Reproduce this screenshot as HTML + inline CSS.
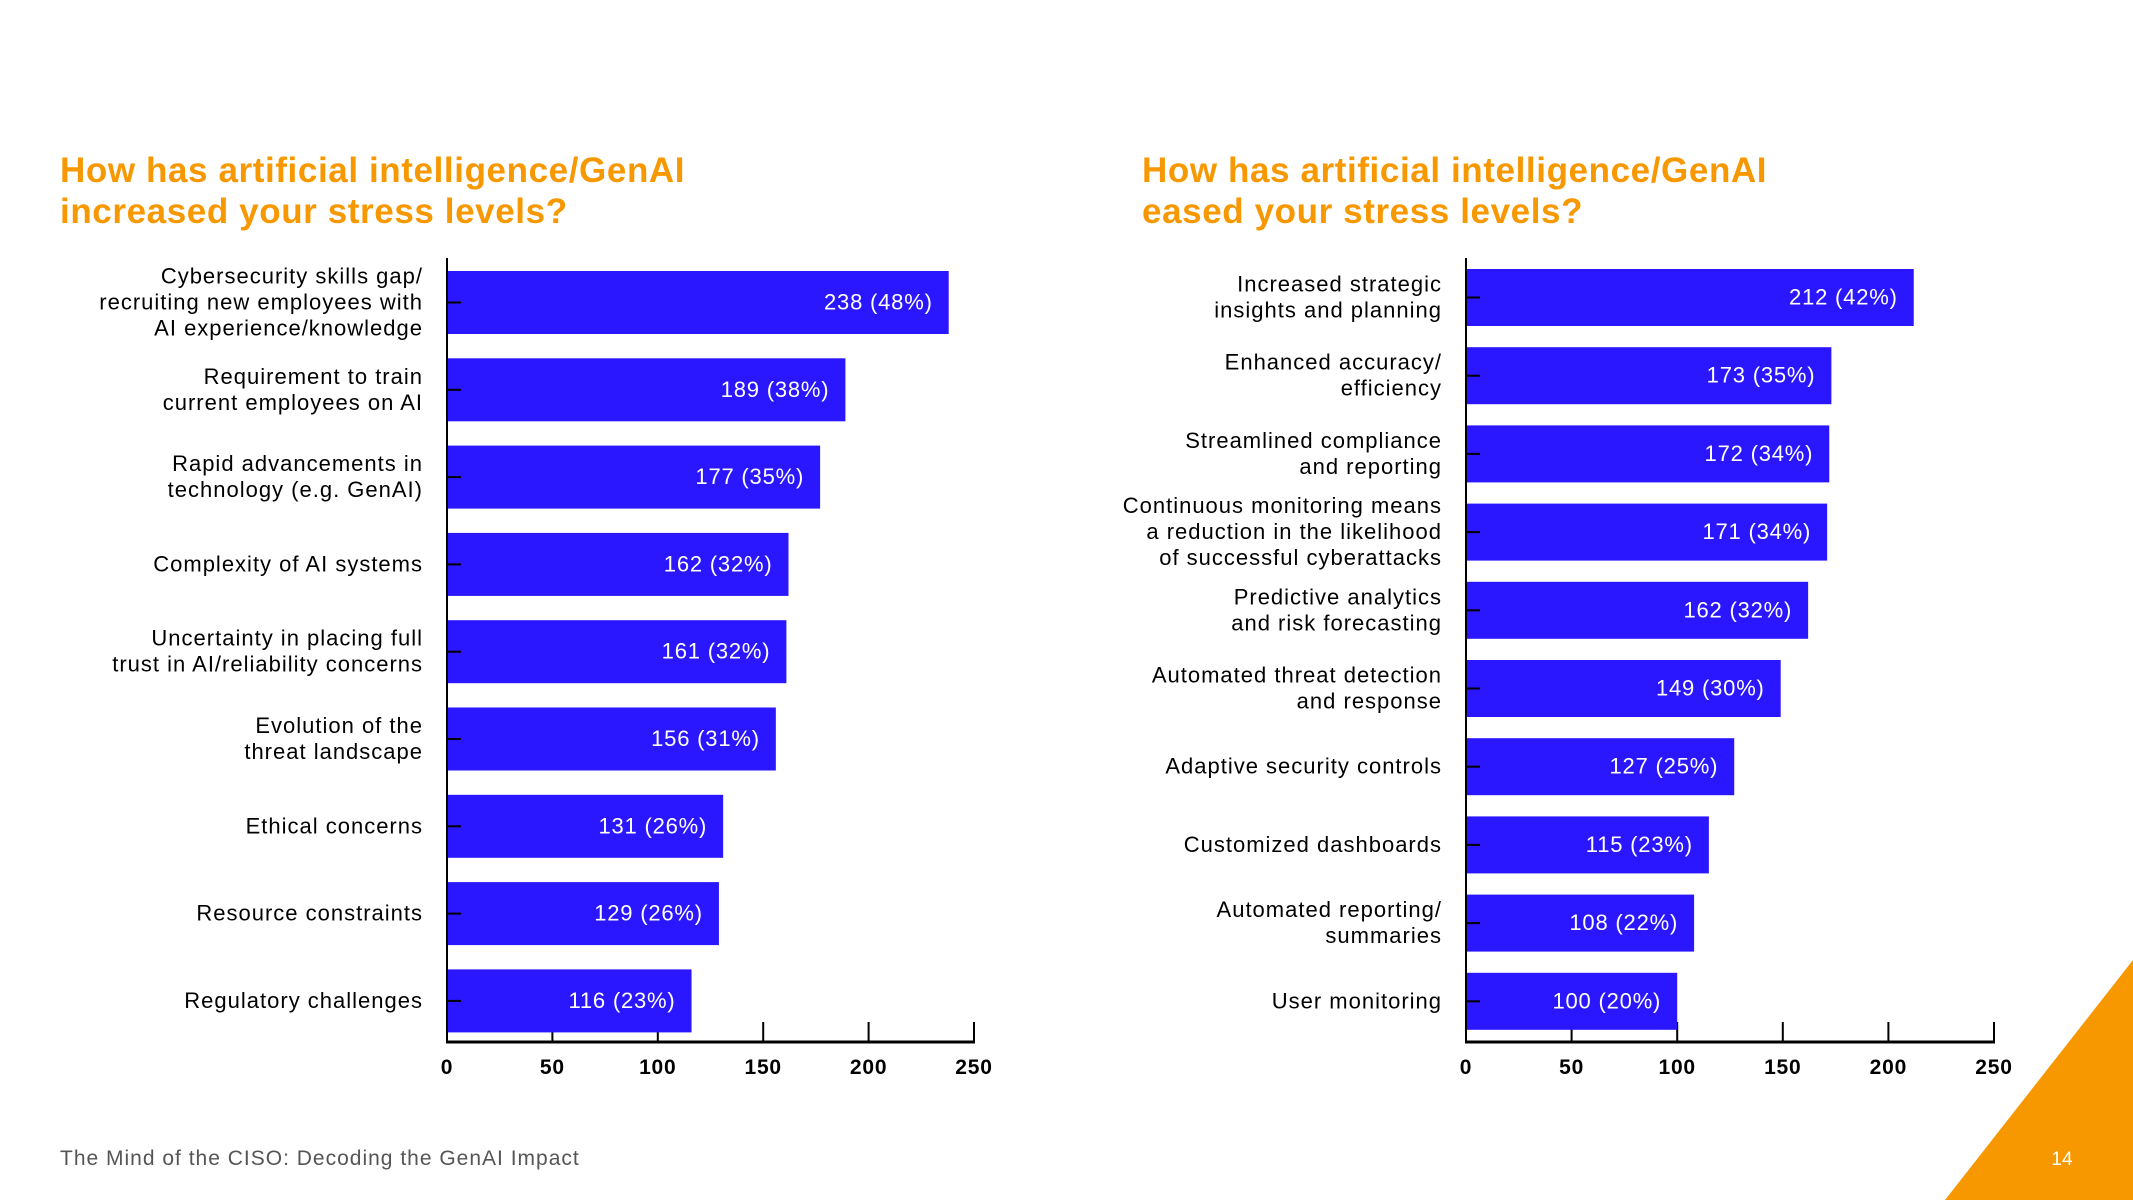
<!DOCTYPE html>
<html><head><meta charset="utf-8"><style>
html,body{margin:0;padding:0;background:#fff;}
svg{display:block;font-family:"Liberation Sans",sans-serif;}
</style></head><body>
<svg id="s" width="2133" height="1200" viewBox="0 0 2133 1200" xmlns="http://www.w3.org/2000/svg">
<text x="60" y="182" font-size="35" font-weight="bold" letter-spacing="0.6" fill="#F79800">How has artificial intelligence/GenAI</text>
<text x="60" y="223" font-size="35" font-weight="bold" letter-spacing="0.6" fill="#F79800">increased your stress levels?</text>
<text x="1142" y="182" font-size="35" font-weight="bold" letter-spacing="0.6" fill="#F79800">How has artificial intelligence/GenAI</text>
<text x="1142" y="223" font-size="35" font-weight="bold" letter-spacing="0.6" fill="#F79800">eased your stress levels?</text>
<g id="left"></g>
<g id="right"></g>
<text x="60" y="1165" font-size="21" letter-spacing="1" fill="#555">The Mind of the CISO: Decoding the GenAI Impact</text>
<polygon points="1945,1200 2133,960 2133,1200" fill="#F79800"/>
<text x="2062" y="1165" font-size="19" fill="#fff" text-anchor="middle">14</text>
</svg>
<script>
const leftCategories = [["Cybersecurity skills gap/","recruiting new employees with","AI experience/knowledge"],["Requirement to train","current employees on AI"],["Rapid advancements in","technology (e.g. GenAI)"],["Complexity of AI systems"],["Uncertainty in placing full","trust in AI/reliability concerns"],["Evolution of the","threat landscape"],["Ethical concerns"],["Resource constraints"],["Regulatory challenges"]];
const leftValues = [238,189,177,162,161,156,131,129,116];
const leftPercents = [48,38,35,32,32,31,26,26,23];
const rightCategories = [["Increased strategic","insights and planning"],["Enhanced accuracy/","efficiency"],["Streamlined compliance","and reporting"],["Continuous monitoring means","a reduction in the likelihood","of successful cyberattacks"],["Predictive analytics","and risk forecasting"],["Automated threat detection","and response"],["Adaptive security controls"],["Customized dashboards"],["Automated reporting/","summaries"],["User monitoring"]];
const rightValues = [212,173,172,171,162,149,127,115,108,100];
const rightPercents = [42,35,34,34,32,30,25,23,22,20];
const xTicks = [0,50,100,150,200,250];

const NS="http://www.w3.org/2000/svg";
function mk(parent,tag,attrs){const e=document.createElementNS(NS,tag);for(const k in attrs)e.setAttribute(k,attrs[k]);parent.appendChild(e);return e;}
function draw(g,cats,vals,pcts,x0,x1,top,pitch,bh,axisTop,axisY,prefix){
  const xs=v=>x0+(x1-x0)*v/250;
  const axis=mk(g,'line',{x1:x0,y1:axisTop,x2:x0,y2:axisY,stroke:'#000','stroke-width':2});
  
  
  const ax=mk(g,'line',{x1:x0-1,y1:axisY,x2:x1+1,y2:axisY,stroke:'#000','stroke-width':3});
  
  
  xTicks.forEach(t=>{
    const tk=mk(g,'line',{x1:xs(t),y1:axisY-20,x2:xs(t),y2:axisY,stroke:'#000','stroke-width':2});
    
    
    const tl=mk(g,'text',{x:xs(t),y:axisY+32,'font-size':21,'font-weight':'bold','letter-spacing':0.8,'text-anchor':'middle',fill:'#000'});
    tl.textContent=t;
    
    
  });
  vals.forEach((v,i)=>{
    const y=top+i*pitch, cy=y+bh/2;
    const r=mk(g,'rect',{x:x0+1,y:y,width:xs(v)-x0-1,height:bh,fill:'#2B17FF'});
    
    
    const tk=mk(g,'line',{x1:x0,y1:cy,x2:x0+14,y2:cy,stroke:'#000','stroke-width':2});
    
    
    const vl=mk(g,'text',{x:xs(v)-16,y:cy+7,'font-size':22,'letter-spacing':0.8,'text-anchor':'end',fill:'#fff'});
    vl.textContent=v+' ('+pcts[i]+'%)';
    
    
    const lines=cats[i], lh=26;
    const lab=mk(g,'text',{'font-size':22,'letter-spacing':1,'text-anchor':'end',fill:'#000'});
    
    
    lines.forEach((ln,j)=>{
      const ts=mk(lab,'tspan',{x:x0-24,y:cy+7+(j-(lines.length-1)/2)*lh});
      ts.textContent=ln;
    });
  });
}
draw(document.getElementById('left'),leftCategories,leftValues,leftPercents,447,974,271,87.3,63,258,1042,'left');
draw(document.getElementById('right'),rightCategories,rightValues,rightPercents,1466,1994,269,78.2,57,258,1042,'right');
</script>
</body></html>
